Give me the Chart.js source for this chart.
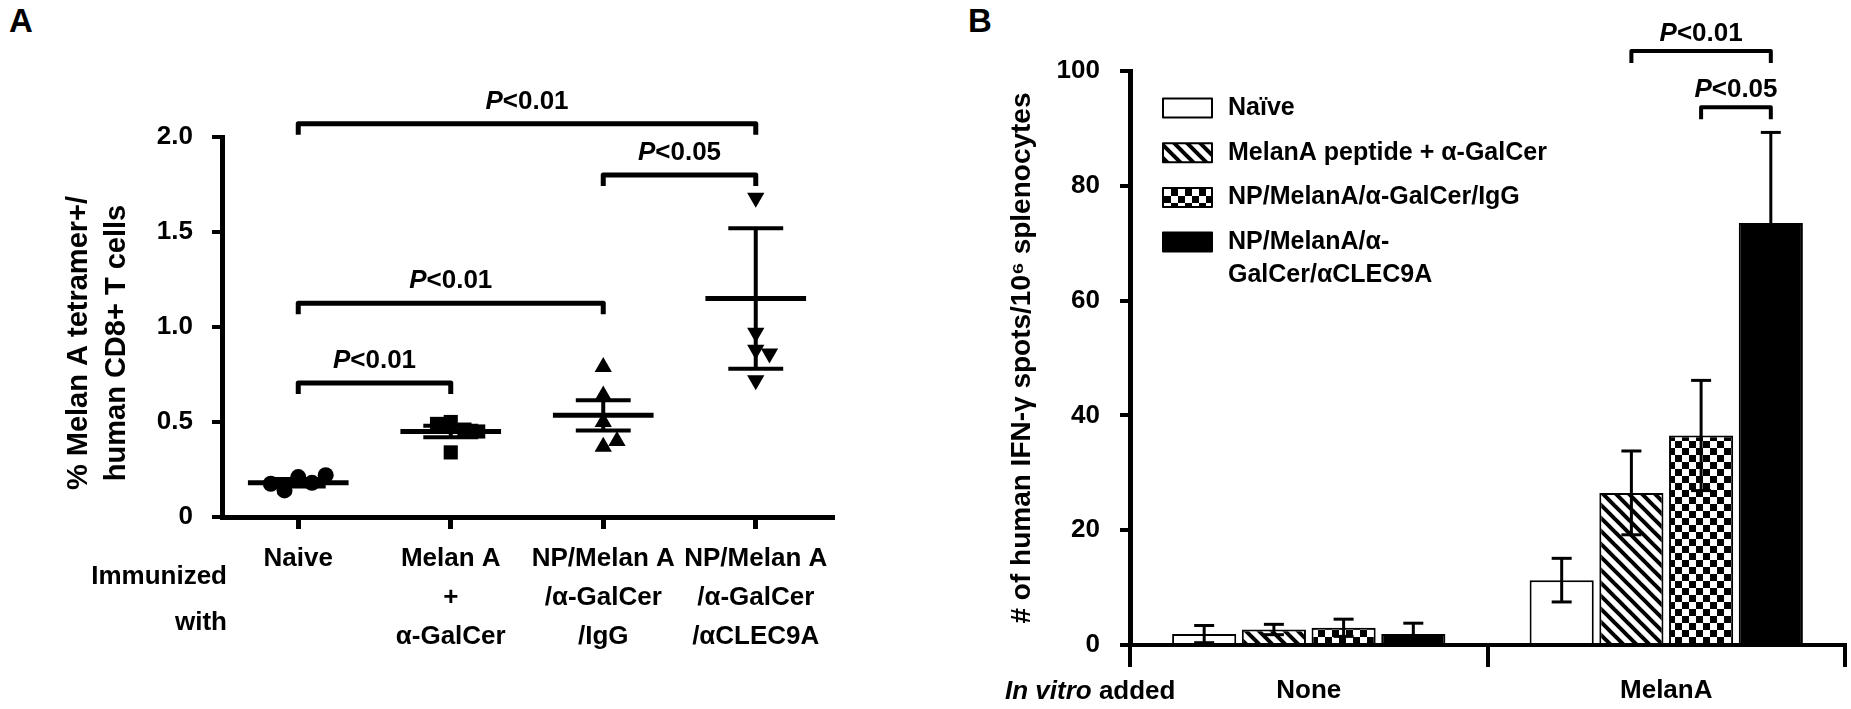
<!DOCTYPE html>
<html>
<head>
<meta charset="utf-8">
<script src="https://cdn.jsdelivr.net/npm/chart.js@4.4.1/dist/chart.umd.min.js"></script>
<style>
  html, body { margin: 0; padding: 0; background: #fff; width: 1851px; height: 709px; overflow: hidden; position: relative; }
  canvas { position: absolute; top: 0; }
  #chartA { left: 0; }
  #chartB { left: 940px; }
  .panel { position: absolute; font: bold 33px 'Liberation Sans', Arial, sans-serif; line-height: 1; color: #000; }
</style>
</head>
<body>
<div class="panel" style="left:9px;top:4px">A</div>
<div class="panel" style="left:968px;top:4px">B</div>
<canvas id="chartA" width="940" height="709"></canvas>
<canvas id="chartB" width="911" height="709"></canvas>
<script>
const FONT = "'Liberation Sans', Arial, sans-serif";

// ---- panel A: % Melan A tetramer+ CD8+ T cells
const groupsA = ['Naive', ['Melan A', '+', 'α-GalCer'], ['NP/Melan A', '/α-GalCer', '/IgG'], ['NP/Melan A', '/α-GalCer', '/αCLEC9A']];
const naiveA = [0.21, 0.18, 0.14, 0.22, 0.175];
const melanA = [0.50, 0.46, 0.49, 0.45, 0.34];
const npIgGA = [0.79, 0.64, 0.50, 0.37, 0.40];
const npClecA = [1.68, 0.97, 0.88, 0.86, 0.72];
const meanA = [0.18, 0.45, 0.535, 1.15];
const semA = [0.02, 0.03, 0.08, 0.37];
const titleA = ['% Melan A tetramer+/', 'human CD8+ T cells'];
const pFromA = [0, 2, 0, 0];
const pToA = [3, 3, 2, 1];
const pLevelA = [2.07, 1.80, 1.125, 0.705];
const pTextA = ['<0.01', '<0.05', '<0.01', '<0.01'];

// ---- panel B: IFN-γ ELISPOT
const groupsB = ['None', 'MelanA'];
const seriesB = ['Naïve', 'MelanA peptide + α-GalCer', 'NP/MelanA/α-GalCer/IgG', ['NP/MelanA/α-', 'GalCer/αCLEC9A']];
const naiveB = [1.9, 11.3];
const peptideB = [2.7, 26.5];
const npIgGB = [3.0, 36.5];
const npClecB = [1.9, 73.5];
const errNaiveB = [1.5, 3.8];
const errPeptideB = [0.9, 7.3];
const errIgGB = [1.5, 9.6];
const errClecB = [1.9, 15.8];
const pFromB = [1, 2];
const pToB = [3, 3];
const pLevelB = [103.5, 93.7];
const pTextB = ['<0.01', '<0.05'];

// spread points of one group sideways so that close values do not overlap
const STEP = 0.09, NEAR = 0.085;
function swarm(values, idx) {
  const placed = [];
  return values.map(v => {
    for (const k of [0, 1, -1, 2, -2, 3, -3]) {
      if (!placed.some(p => p.k === k && Math.abs(p.v - v) < NEAR)) {
        placed.push({ k, v });
        return { x: idx + k * STEP, y: v };
      }
    }
  });
}

function line(ctx, x1, y1, x2, y2) {
  ctx.beginPath(); ctx.moveTo(x1, y1); ctx.lineTo(x2, y2); ctx.stroke();
}

function bracket(ctx, x1, x2, yb, drop) {
  ctx.beginPath();
  ctx.moveTo(x1, yb + drop); ctx.lineTo(x1, yb); ctx.lineTo(x2, yb); ctx.lineTo(x2, yb + drop);
  ctx.stroke();
}

function drawP(ctx, cx, cy, rest) {
  ctx.textBaseline = 'middle';
  ctx.textAlign = 'left';
  ctx.font = 'italic bold 26px ' + FONT;
  const wP = ctx.measureText('P').width;
  ctx.font = 'bold 26px ' + FONT;
  const wR = ctx.measureText(rest).width;
  const x0 = cx - (wP + wR) / 2;
  ctx.font = 'italic bold 26px ' + FONT;
  ctx.fillText('P', x0, cy);
  ctx.font = 'bold 26px ' + FONT;
  ctx.fillText(rest, x0 + wP, cy);
}

const panelAExtras = {
  id: 'panelAExtras',
  afterDatasetsDraw(chart) {
    const { ctx, chartArea, scales: { x, y } } = chart;
    const unit = x.getPixelForValue(1) - x.getPixelForValue(0);
    ctx.save();
    ctx.strokeStyle = '#000';
    ctx.fillStyle = '#000';
    meanA.forEach((m, i) => {
      const cx = x.getPixelForValue(i);
      const ym = y.getPixelForValue(m);
      const top = y.getPixelForValue(m + semA[i]);
      const bot = y.getPixelForValue(m - semA[i]);
      ctx.lineWidth = 5;
      line(ctx, cx - unit * 0.33, ym, cx + unit * 0.33, ym);
      ctx.lineWidth = 4;
      line(ctx, cx, top, cx, bot);
      line(ctx, cx - unit * 0.18, top, cx + unit * 0.18, top);
      line(ctx, cx - unit * 0.18, bot, cx + unit * 0.18, bot);
    });
    ctx.lineWidth = 5;
    ctx.lineJoin = 'round';
    pLevelA.forEach((lv, i) => {
      const x1 = x.getPixelForValue(pFromA[i]);
      const x2 = x.getPixelForValue(pToA[i]);
      const yb = y.getPixelForValue(lv);
      bracket(ctx, x1, x2, yb, 11);
      drawP(ctx, (x1 + x2) / 2, yb - 22, pTextA[i]);
    });
    ctx.font = 'bold 26px ' + FONT;
    ctx.textAlign = 'right';
    ctx.textBaseline = 'middle';
    ctx.fillText('Immunized', chartArea.left + 5, chartArea.bottom + 60);
    ctx.fillText('with', chartArea.left + 5, chartArea.bottom + 106);
    // axis title, a little below the middle of the axis as in the figure
    ctx.save();
    ctx.translate(79, (chartArea.top + chartArea.bottom) / 2 + 16);
    ctx.rotate(-Math.PI / 2);
    ctx.textAlign = 'center';
    ctx.font = 'bold 29px ' + FONT;
    titleA.forEach((t, k) => ctx.fillText(t, 0, k * 38));
    ctx.restore();
    ctx.restore();
  }
};

const chartA = new Chart(document.getElementById('chartA'), {
  type: 'scatter',
  data: {
    datasets: [
      { data: swarm(naiveA, 0), pointStyle: 'circle', pointRadius: 8 },
      { data: swarm(melanA, 1), pointStyle: 'rect', pointRadius: 10 },
      { data: swarm(npIgGA, 2), pointStyle: 'triangle', pointRadius: 10 },
      { data: swarm(npClecA, 3), pointStyle: 'triangle', pointRadius: 10, rotation: 180 }
    ].map(d => Object.assign(d, { backgroundColor: '#000', borderColor: '#000', borderWidth: 0 }))
  },
  options: {
    responsive: false,
    animation: false,
    devicePixelRatio: 1,
    events: [],
    layout: { padding: { top: 137, right: 108, bottom: 0, left: 0 } },
    plugins: { legend: { display: false }, tooltip: { enabled: false } },
    scales: {
      x: {
        type: 'linear',
        min: -0.5,
        max: 3.5,
        afterBuildTicks: s => { s.ticks = groupsA.map((_, i) => ({ value: i })); },
        afterFit: s => { s.height = 192; },
        grid: { drawOnChartArea: false, tickLength: 12, lineWidth: 5, color: '#000' },
        border: { display: true, width: 5, color: '#000' },
        ticks: {
          callback: v => groupsA[v],
          autoSkip: false,
          maxRotation: 0,
          padding: 10,
          color: '#000',
          font: { family: FONT, size: 26, weight: 'bold', lineHeight: 1.5 }
        }
      },
      y: {
        min: 0,
        max: 2,
        afterFit: s => { s.width = 222; },
        grid: { drawOnChartArea: false, tickLength: 10, lineWidth: 4, color: '#000' },
        border: { display: true, width: 5, color: '#000' },
        ticks: {
          stepSize: 0.5,
          callback: v => v === 0 ? '0' : v.toFixed(1),
          padding: 19,
          color: '#000',
          font: { family: FONT, size: 26, weight: 'bold' }
        }
      }
    }
  },
  plugins: [panelAExtras]
});

// fills for panel B
function hatchFill() {
  const s = 13, c = document.createElement('canvas');
  c.width = c.height = s;
  const g = c.getContext('2d');
  g.fillStyle = '#fff'; g.fillRect(0, 0, s, s);
  g.strokeStyle = '#000'; g.lineWidth = 4;
  for (const k of [-1, 0, 1]) {
    g.beginPath(); g.moveTo(k * s - 2, -2); g.lineTo(k * s + s + 2, s + 2); g.stroke();
  }
  return g.createPattern(c, 'repeat');
}
function checkerFill() {
  const s = 14, c = document.createElement('canvas');
  c.width = c.height = s;
  const g = c.getContext('2d');
  g.fillStyle = '#fff'; g.fillRect(0, 0, s, s);
  g.fillStyle = '#000';
  g.fillRect(0, 0, s / 2, s / 2); g.fillRect(s / 2, s / 2, s / 2, s / 2);
  return g.createPattern(c, 'repeat');
}
const fillsB = ['#fff', hatchFill(), checkerFill(), '#000'];
const errsB = [errNaiveB, errPeptideB, errIgGB, errClecB];

const panelBExtras = {
  id: 'panelBExtras',
  afterDatasetsDraw(chart) {
    const { ctx, chartArea, scales: { y } } = chart;
    ctx.save();
    ctx.strokeStyle = '#000';
    ctx.fillStyle = '#000';
    ctx.lineWidth = 3;
    chart.data.datasets.forEach((ds, di) => {
      chart.getDatasetMeta(di).data.forEach((bar, j) => {
        const v = ds.data[j], e = errsB[di][j];
        const top = y.getPixelForValue(v + e), bot = y.getPixelForValue(v - e);
        line(ctx, bar.x, top, bar.x, bot);
        line(ctx, bar.x - 10, top, bar.x + 10, top);
        line(ctx, bar.x - 10, bot, bar.x + 10, bot);
      });
    });
    ctx.lineWidth = 4;
    ctx.lineJoin = 'round';
    pLevelB.forEach((lv, i) => {
      const x1 = chart.getDatasetMeta(pFromB[i]).data[1].x;
      const x2 = chart.getDatasetMeta(pToB[i]).data[1].x;
      const yb = y.getPixelForValue(lv);
      bracket(ctx, x1, x2, yb, 12);
      drawP(ctx, (x1 + x2) / 2, yb - 17, pTextB[i]);
    });
    // legend
    ctx.lineWidth = 2;
    seriesB.forEach((lab, i) => {
      const cy = chartArea.top + 37 + i * 44.7;
      const sx = chartArea.left + 33;
      ctx.fillStyle = fillsB[i];
      ctx.fillRect(sx, cy - 9.5, 49, 19);
      ctx.strokeRect(sx, cy - 9.5, 49, 19);
      ctx.fillStyle = '#000';
      ctx.font = 'bold 25px ' + FONT;
      ctx.textAlign = 'left';
      ctx.textBaseline = 'middle';
      [].concat(lab).forEach((t, k) => ctx.fillText(t, chartArea.left + 98, cy + k * 33));
    });
    // in vitro added
    ctx.textBaseline = 'middle';
    ctx.font = 'italic bold 26px ' + FONT;
    const xs = chartArea.left - 125;
    const w = ctx.measureText('In vitro').width;
    ctx.fillText('In vitro', xs, chartArea.bottom + 47);
    ctx.font = 'bold 26px ' + FONT;
    ctx.fillText(' added', xs + w, chartArea.bottom + 47);
    ctx.restore();
  }
};

const chartB = new Chart(document.getElementById('chartB'), {
  type: 'bar',
  data: {
    labels: groupsB,
    datasets: [naiveB, peptideB, npIgGB, npClecB].map((d, i) => ({
      label: [].concat(seriesB[i]).join(''),
      data: d,
      backgroundColor: fillsB[i],
      borderColor: '#000',
      borderWidth: 2,
      categoryPercentage: 0.78,
      barPercentage: 0.92
    }))
  },
  options: {
    responsive: false,
    animation: false,
    devicePixelRatio: 1,
    events: [],
    layout: { padding: { top: 71, right: 6, bottom: 0, left: 0 } },
    plugins: { legend: { display: false }, tooltip: { enabled: false } },
    scales: {
      x: {
        afterFit: s => { s.height = 64; },
        grid: { offset: true, drawOnChartArea: false, tickLength: 22, lineWidth: 4, color: '#000' },
        border: { display: true, width: 4, color: '#000' },
        ticks: { padding: 8, color: '#000', font: { family: FONT, size: 26, weight: 'bold' } }
      },
      y: {
        min: 0,
        max: 100,
        afterFit: s => { s.width = 190; },
        grid: { drawOnChartArea: false, tickLength: 10, lineWidth: 4, color: '#000' },
        border: { display: true, width: 5, color: '#000' },
        ticks: { stepSize: 20, padding: 20, color: '#000', font: { family: FONT, size: 26, weight: 'bold' } },
        title: {
          display: true,
          text: '# of human IFN-γ spots/10⁶ splenocytes',
          color: '#000',
          padding: { top: 65, bottom: 0 },
          font: { family: FONT, size: 28, weight: 'bold' }
        }
      }
    }
  },
  plugins: [panelBExtras]
});
</script>
</body>
</html>
